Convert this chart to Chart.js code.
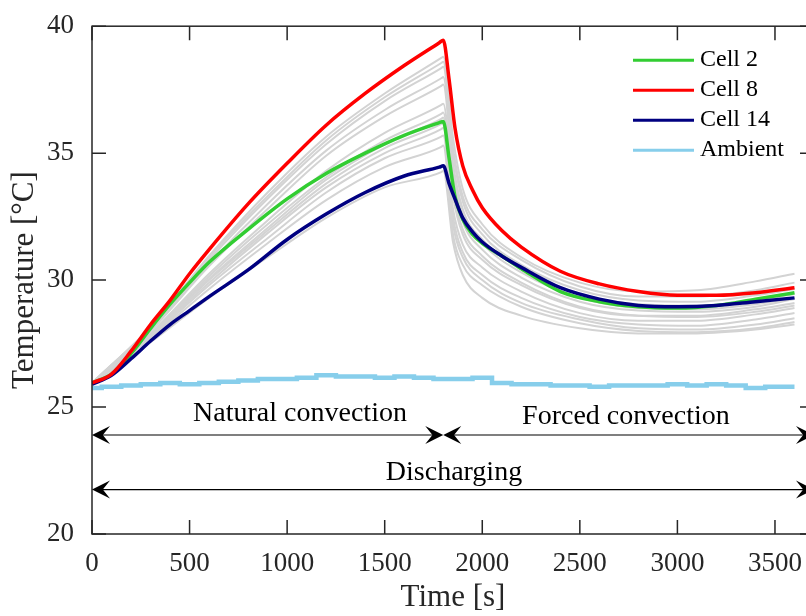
<!DOCTYPE html>
<html>
<head>
<meta charset="utf-8">
<script src="https://cdn.jsdelivr.net/npm/chart.js@4.4.1/dist/chart.umd.min.js"></script>
<style>
  html, body { margin: 0; padding: 0; background: #fff; overflow: hidden; }
  #wrap { width: 814px; height: 616px; }
</style>
</head>
<body>
<div id="wrap"><canvas id="tempChart" width="814" height="616"></canvas></div>
<script>
// Sample times [s] for the highlighted cells
const cellTimes = [0, 100, 200, 300, 400, 500, 600, 800, 1000, 1200, 1400, 1600, 1780, 1800,
  1830, 1860, 1900, 1950, 2000, 2100, 2200, 2400, 2600, 2800, 3000, 3200, 3400, 3600];

const cell2 = [25.95, 26.3, 27.1, 28.1, 29.05, 29.9, 30.7, 32.0, 33.2, 34.2, 35.0, 35.7, 36.2, 36.25,
  34.8, 33.3, 32.4, 31.8, 31.45, 30.95, 30.45, 29.55, 29.15, 28.95, 28.9, 29.0, 29.25, 29.5];
const cell8 = [25.95, 26.3, 27.2, 28.25, 29.2, 30.25, 31.2, 33.0, 34.6, 36.1, 37.35, 38.45, 39.35, 39.45,
  37.9, 36.0, 34.5, 33.55, 32.85, 31.95, 31.3, 30.35, 29.85, 29.55, 29.4, 29.4, 29.5, 29.7];
const cell14 = [25.9, 26.25, 26.9, 27.6, 28.25, 28.8, 29.35, 30.4, 31.6, 32.6, 33.45, 34.1, 34.45, 34.5,
  33.8, 33.2, 32.45, 31.9, 31.5, 30.95, 30.5, 29.7, 29.25, 29.0, 28.95, 29.0, 29.15, 29.3];

// Ambient temperature, one reading every 100 s
const ambientTimes = [0, 100, 200, 300, 400, 500, 600, 700, 800, 900, 1000, 1100, 1200, 1300, 1400,
  1500, 1600, 1700, 1800, 1900, 2000, 2100, 2200, 2300, 2400, 2500, 2600, 2700, 2800, 2900, 3000,
  3100, 3200, 3300, 3400, 3500, 3600];
const ambient = [25.75, 25.8, 25.85, 25.9, 25.95, 25.9, 25.95, 26.0, 26.05, 26.1, 26.1, 26.15, 26.25,
  26.2, 26.2, 26.15, 26.2, 26.15, 26.1, 26.1, 26.15, 25.95, 25.9, 25.9, 25.85, 25.85, 25.8, 25.85,
  25.85, 25.85, 25.9, 25.85, 25.9, 25.85, 25.75, 25.8, 25.8];

// Remaining cells of the pack (drawn in grey)
const otherTimes = [0, 300, 600, 900, 1200, 1500, 1790, 1800, 1850, 1900, 2000, 2200, 2500, 2800, 3100, 3400, 3600];
const otherCells = [
  [25.95, 28.15, 30.95, 33.45, 35.65, 37.35, 38.75, 38.8, 35.6, 33.6, 32.2, 30.9, 29.9, 29.55, 29.6, 29.95, 30.25],
  [25.95, 28.15, 30.9, 33.3, 35.5, 37.2, 38.55, 38.6, 35.2, 33.3, 32.0, 30.8, 29.75, 29.35, 29.35, 29.6, 29.9],
  [25.95, 28.1, 30.8, 33.2, 35.35, 37.05, 38.35, 38.4, 35.0, 33.1, 31.8, 30.6, 29.6, 29.2, 29.15, 29.4, 29.65],
  [25.9, 28.05, 30.65, 33.0, 35.1, 36.7, 37.95, 38.0, 34.6, 32.8, 31.6, 30.45, 29.45, 29.05, 29.0, 29.2, 29.45],
  [25.9, 28.0, 30.55, 32.8, 34.9, 36.45, 37.65, 37.7, 34.3, 32.6, 31.45, 30.3, 29.3, 28.9, 28.85, 29.05, 29.3],
  [25.9, 27.9, 30.25, 32.35, 34.3, 35.8, 36.9, 36.95, 33.9, 32.3, 31.2, 30.1, 29.15, 28.8, 28.75, 28.95, 29.25],
  [25.9, 27.85, 30.15, 32.2, 34.05, 35.5, 36.55, 36.6, 33.5, 32.0, 30.95, 29.9, 28.95, 28.6, 28.55, 28.75, 29.0],
  [25.9, 27.85, 30.05, 32.05, 33.95, 35.35, 36.35, 36.4, 33.3, 31.8, 30.8, 29.8, 28.9, 28.6, 28.6, 28.85, 29.1],
  [25.9, 27.8, 29.9, 31.85, 33.65, 35.0, 35.95, 36.0, 32.8, 31.4, 30.5, 29.55, 28.7, 28.4, 28.4, 28.65, 28.9],
  [25.9, 27.7, 29.65, 31.45, 33.15, 34.45, 35.25, 35.3, 31.8, 30.6, 29.8, 28.95, 28.3, 28.0, 27.95, 28.1, 28.35],
  [25.85, 27.55, 29.3, 30.9, 32.45, 33.65, 34.25, 34.3, 31.5, 30.2, 29.3, 28.6, 28.1, 27.9, 27.9, 28.05, 28.25],
  [25.9, 27.8, 30.0, 31.95, 33.8, 35.2, 36.15, 36.2, 32.5, 31.1, 30.2, 29.3, 28.55, 28.25, 28.2, 28.45, 28.7],
  [25.9, 27.75, 29.8, 31.65, 33.45, 34.8, 35.65, 35.7, 32.2, 30.9, 30.0, 29.1, 28.45, 28.1, 28.05, 28.25, 28.5]
];

const xTicks = [0, 500, 1000, 1500, 2000, 2500, 3000, 3500];
const yTicks = [20, 25, 30, 35, 40];

// Phase annotations: [text, time, temperature]
const phaseLabels = [
  ['Natural convection', 1066, 24.73],
  ['Forced convection', 2736, 24.61],
  ['Discharging', 1855, 22.42]
];
// Double-headed arrows: [from time, to time, temperature]
const phaseArrows = [
  [0, 1800, 23.9],
  [1800, 3700, 23.9],
  [0, 3700, 21.75]
];

const SERIF = '"Liberation Serif", "Times New Roman", serif';
const INK = '#262626';

function pts(xs, ys) {
  return ys.map((v, i) => ({ x: xs[i], y: v }));
}

const datasets = [
  { label: 'Cell 2', data: pts(cellTimes, cell2), borderColor: '#32cd32', borderWidth: 3.5, order: 2 },
  { label: 'Cell 8', data: pts(cellTimes, cell8), borderColor: '#ff0000', borderWidth: 3.5, order: 0 },
  { label: 'Cell 14', data: pts(cellTimes, cell14), borderColor: '#000080', borderWidth: 3.5, order: 1 },
  { label: 'Ambient', data: pts(ambientTimes, ambient), borderColor: '#87ceeb', borderWidth: 4.5,
    stepped: 'middle', order: 3 }
];
otherCells.forEach(vals => {
  datasets.push({ label: '', data: pts(otherTimes, vals), borderColor: '#d3d3d3', borderWidth: 2, order: 10 });
});

function arrowHead(ctx, x, y, dir) {
  const L = 18, W = 9;
  ctx.beginPath();
  ctx.moveTo(x, y);
  ctx.lineTo(x - dir * L, y - W);
  ctx.lineTo(x - dir * L * 0.6, y);
  ctx.lineTo(x - dir * L, y + W);
  ctx.closePath();
  ctx.fill();
}

const decorations = {
  id: 'decorations',
  afterDraw(chart) {
    const { ctx, chartArea: a, scales: { x, y } } = chart;
    ctx.save();

    // axes box
    ctx.strokeStyle = INK;
    ctx.lineWidth = 1.5;
    ctx.strokeRect(a.left, a.top, a.right - a.left, a.bottom - a.top);

    // inward tick marks on all four sides
    ctx.beginPath();
    x.ticks.forEach(t => {
      const px = x.getPixelForValue(t.value);
      ctx.moveTo(px, a.bottom); ctx.lineTo(px, a.bottom - 14);
      ctx.moveTo(px, a.top); ctx.lineTo(px, a.top + 14);
    });
    y.ticks.forEach(t => {
      const py = y.getPixelForValue(t.value);
      ctx.moveTo(a.left, py); ctx.lineTo(a.left + 14, py);
      ctx.moveTo(a.right, py); ctx.lineTo(a.right - 14, py);
    });
    ctx.stroke();

    // phase arrows
    ctx.strokeStyle = '#000';
    ctx.fillStyle = '#000';
    ctx.lineWidth = 1.2;
    phaseArrows.forEach(([t0, t1, temp]) => {
      const x0 = x.getPixelForValue(t0), x1 = x.getPixelForValue(t1), py = y.getPixelForValue(temp);
      ctx.beginPath();
      ctx.moveTo(x0 + 8, py); ctx.lineTo(x1 - 8, py);
      ctx.stroke();
      arrowHead(ctx, x0, py, -1);
      arrowHead(ctx, x1, py, 1);
    });

    // phase labels
    ctx.font = '28px ' + SERIF;
    ctx.textAlign = 'center';
    ctx.textBaseline = 'middle';
    phaseLabels.forEach(([text, t, temp]) => {
      ctx.fillText(text, x.getPixelForValue(t), y.getPixelForValue(temp));
    });

    // legend, top right inside the axes
    const lx = a.right - 181, ly = a.top + 34, row = 30;
    ctx.font = '24px ' + SERIF;
    ctx.textAlign = 'left';
    chart.data.datasets.filter(d => d.label).forEach((d, i) => {
      const yy = ly + i * row;
      ctx.strokeStyle = d.borderColor;
      ctx.lineWidth = 3;
      ctx.beginPath();
      ctx.moveTo(lx, yy); ctx.lineTo(lx + 61, yy);
      ctx.stroke();
      ctx.fillStyle = '#000';
      ctx.fillText(d.label, lx + 67, yy);
    });

    ctx.restore();
  }
};

new Chart(document.getElementById('tempChart'), {
  type: 'line',
  data: { datasets },
  options: {
    responsive: false,
    animation: false,
    layout: { padding: { top: 22, right: 0, bottom: 0, left: 0 } },
    elements: {
      point: { radius: 0 },
      line: { cubicInterpolationMode: 'monotone' }
    },
    plugins: { legend: { display: false }, tooltip: { enabled: false } },
    scales: {
      x: {
        type: 'linear', min: 0, max: 3700,
        afterBuildTicks: s => { s.ticks = xTicks.map(v => ({ value: v })); },
        afterFit: s => { s.height = 82; },
        grid: { display: false },
        border: { display: false },
        ticks: { autoSkip: false, maxRotation: 0, padding: 6, color: INK,
          font: { family: SERIF, size: 27 }, callback: v => String(v) },
        title: { display: true, text: 'Time [s]', color: INK,
          font: { family: SERIF, size: 31 }, padding: { top: 0, bottom: 0 } }
      },
      y: {
        type: 'linear', min: 20, max: 40,
        afterBuildTicks: s => { s.ticks = yTicks.map(v => ({ value: v })); },
        afterFit: s => { s.width = 92; },
        grid: { display: false },
        border: { display: false },
        ticks: { padding: 10, color: INK, font: { family: SERIF, size: 27 }, callback: v => String(v) },
        title: { display: true, text: 'Temperature [°C]', color: INK,
          font: { family: SERIF, size: 31 }, padding: { top: 6, bottom: 4 } }
      }
    }
  },
  plugins: [decorations]
});
</script>
</body>
</html>
